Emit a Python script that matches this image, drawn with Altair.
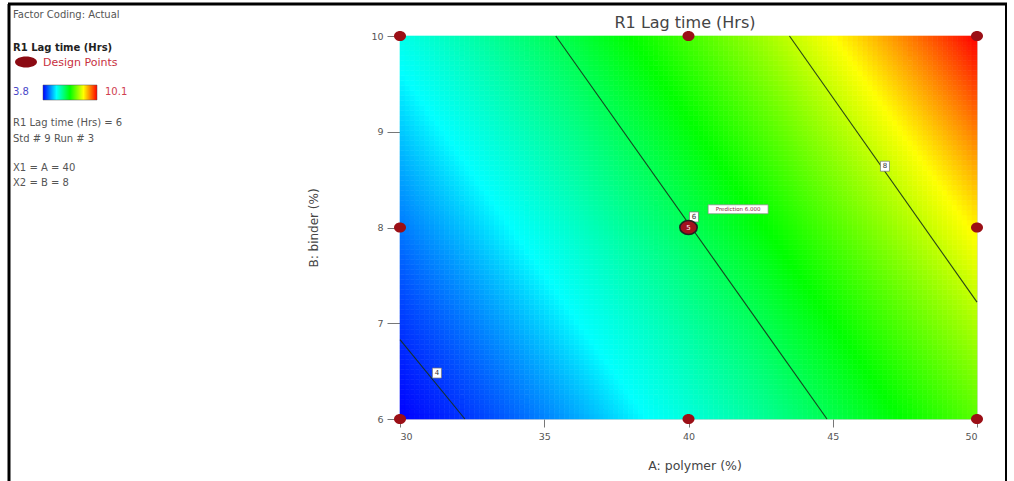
import altair as alt
import numpy as np
import pandas as pd

FONT = "DejaVu Sans"

# ---- axes ----
a_min, a_max = 30, 50
b_min, b_max = 6, 10
x_ticks = [30, 35, 40, 45, 50]
y_ticks = [6, 7, 8, 9, 10]
chart_title = "R1 Lag time (Hrs)"
x_title = "A: polymer (%)"
y_title = "B: binder (%)"

# ---- response surface ----
# R1 = c0 + b1*t + b2*t^2 with t = (A - 40) + k*(B - 8)
c0 = 6.0
b1 = 0.2143
b2 = 0.0044
k = 2.35

# ---- colour key (values where each colour sits) ----
r_min, r_max = 3.8, 10.1
color_stops = ["#0000ff", "#00ffff", "#00ff00", "#ffff00", "#ff0000"]
color_values = [3.8, 4.85, 6.6, 8.5, 10.1]

# ---- design points ----
dp_A = [30, 30, 30, 40, 40, 50, 50, 50]
dp_B = [6, 8, 10, 6, 10, 6, 8, 10]
center_A, center_B, center_reps = 40, 8, "5"

# ---- contour lines (end points) and their labels ----
contour_levels = ["4", "6", "8"]
contour_A1 = [30.0, 35.4, 43.5]
contour_B1 = [6.83, 10.0, 10.0]
contour_A2 = [32.25, 44.8, 50.0]
contour_B2 = [6.0, 6.0, 7.22]
label_A = [31.28, 40.19, 46.81]
label_B = [6.48, 8.11, 8.64]
pred_A, pred_B, pred_text = 41.72, 8.19, "Prediction  6.000"

# ---- left info panel ----
info_lines = ["Factor Coding: Actual", "R1 Lag time (Hrs) = 6", "Std # 9 Run # 3",
              "X1 = A = 40", "X2 = B = 8"]
info_y = [15, 123, 139, 168, 183]

# ---------------- build ----------------
W, H = 577, 383
OX, OY = 400, 36

nA, nB = 116, 77
ae = np.linspace(a_min, a_max, nA + 1)
be = np.linspace(b_min, b_max, nB + 1)
rows = []
for i in range(nA):
    for j in range(nB):
        ac = (ae[i] + ae[i + 1]) / 2
        bc = (be[j] + be[j + 1]) / 2
        t = (ac - 40) + k * (bc - 8)
        rows.append({"a0": ae[i], "a1": ae[i + 1], "b0": be[j], "b1": be[j + 1],
                     "r": c0 + b1 * t + b2 * t * t})
grid = pd.DataFrame(rows)

cscale = alt.Scale(domain=color_values, range=color_stops, interpolate="rgb", clamp=True)
xs = alt.Scale(domain=[a_min, a_max], nice=False, zero=False)
ys = alt.Scale(domain=[b_min, b_max], nice=False, zero=False)

xaxis = alt.Axis(values=x_ticks, format="d", title=x_title, grid=False, domain=False,
                 labelFontSize=9.5, labelColor="#555", tickColor="#777", tickSize=8,
                 labelPadding=4, titleFontSize=12.5, titleColor="#444", titleFontWeight="normal",
                 titleFont=FONT, labelFont=FONT, titleX=W / 2 + 6, titleY=46,
                 titleBaseline="middle")
yaxis = alt.Axis(values=y_ticks, format="d", title=y_title, grid=False, domain=False,
                 labelFontSize=9.5, labelColor="#555", tickColor="#777", tickSize=13,
                 labelPadding=4, titleFontSize=12, titleColor="#444", titleFontWeight="normal",
                 titleFont=FONT, labelFont=FONT, titleX=313 - OX, titleY=H / 2,
                 titleAngle=270, titleBaseline="middle", titleAlign="center")

heat = alt.Chart(grid).mark_rect(strokeWidth=0.6).encode(
    x=alt.X("a0:Q", scale=xs, axis=xaxis),
    x2="a1",
    y=alt.Y("b0:Q", scale=ys, axis=yaxis),
    y2="b1",
    color=alt.Color("r:Q", scale=cscale, legend=None),
    stroke=alt.Stroke("r:Q", scale=cscale, legend=None),
)

cont = pd.DataFrame({"lvl": contour_levels, "A1": contour_A1, "B1": contour_B1,
                     "A2": contour_A2, "B2": contour_B2})
lines = alt.Chart(cont).mark_rule(color="#17301a", strokeWidth=1.1, opacity=0.9).encode(
    x=alt.X("A1:Q", scale=xs, axis=xaxis), x2="A2",
    y=alt.Y("B1:Q", scale=ys, axis=yaxis), y2="B2")

labs = pd.DataFrame({"lvl": contour_levels, "A": label_A, "B": label_B})
lab_box = alt.Chart(labs).mark_rect(width=9, height=10, fill="white", stroke="#777",
                                    strokeWidth=0.7).encode(
    x=alt.X("A:Q", scale=xs, axis=xaxis), y=alt.Y("B:Q", scale=ys, axis=yaxis))
lab_txt = alt.Chart(labs).mark_text(fontSize=7, color="#333", font=FONT).encode(
    x=alt.X("A:Q", scale=xs, axis=xaxis), y=alt.Y("B:Q", scale=ys, axis=yaxis), text="lvl:N")

pred = pd.DataFrame({"A": [pred_A], "B": [pred_B], "t": [pred_text]})
pred_box = alt.Chart(pred).mark_rect(width=60, height=9, fill="white", stroke="#888",
                                     strokeWidth=0.7).encode(
    x=alt.X("A:Q", scale=xs, axis=xaxis), y=alt.Y("B:Q", scale=ys, axis=yaxis))
pred_txt = alt.Chart(pred).mark_text(fontSize=5.5, color="#8a2a3a", font=FONT).encode(
    x=alt.X("A:Q", scale=xs, axis=xaxis), y=alt.Y("B:Q", scale=ys, axis=yaxis), text="t:N")

dps = pd.DataFrame({"A": dp_A, "B": dp_B})
pts = alt.Chart(dps).mark_point(shape="M-1,0A1,0.85 0 1,1 1,0A1,0.85 0 1,1 -1,0Z", size=144,
                                filled=True, fill="#9b0f16", opacity=1).encode(
    x=alt.X("A:Q", scale=xs, axis=xaxis), y=alt.Y("B:Q", scale=ys, axis=yaxis))

cen = pd.DataFrame({"A": [center_A], "B": [center_B], "n": [center_reps]})
cpt = alt.Chart(cen).mark_point(shape="M-1,0A1,0.8 0 1,1 1,0A1,0.8 0 1,1 -1,0Z", size=300,
                                filled=True, fill="#a3121e", stroke="#222",
                                strokeWidth=1.6, opacity=1).encode(
    x=alt.X("A:Q", scale=xs, axis=xaxis), y=alt.Y("B:Q", scale=ys, axis=yaxis))
ctx = alt.Chart(cen).mark_text(fontSize=7, color="white", font=FONT).encode(
    x=alt.X("A:Q", scale=xs, axis=xaxis), y=alt.Y("B:Q", scale=ys, axis=yaxis), text="n:N")

one = pd.DataFrame({"z": [0]})

def ptext(txt, px, py, align="left", **kw):
    return alt.Chart(one).mark_text(text=txt, align=align, baseline="middle",
                                    font=FONT, **kw).encode(
        x=alt.value(px - OX), y=alt.value(py - OY))

info = [ptext(t, 13, y, fontSize=10, color="#555") for t, y in zip(info_lines, info_y)]
info.append(ptext(chart_title, 13, 48, fontSize=10, color="#222", fontWeight="bold"))
info.append(ptext("Design Points", 43, 63, fontSize=11, color="#c8303e"))
info.append(ptext(f"{r_min}", 13, 92, fontSize=10, color="#4a48c8"))
info.append(ptext(f"{r_max}", 105, 92, fontSize=10, color="#d04050"))
title_txt = ptext(chart_title, 685, 23, align="center", fontSize=16, color="#444")

leg_pt = alt.Chart(one).mark_point(shape="M-1,0A1,0.5 0 1,1 1,0A1,0.5 0 1,1 -1,0Z",
                                   size=484, filled=True, fill="#8b0a12",
                                   opacity=1).encode(x=alt.value(26 - OX), y=alt.value(62 - OY))
grad = alt.Chart(one).mark_rect(
    fill=alt.Gradient(gradient="linear", x1=0, x2=1, y1=0, y2=0,
                      stops=[alt.GradientStop(offset=i / (len(color_stops) - 1), color=c)
                             for i, c in enumerate(color_stops)]),
    stroke="#555", strokeWidth=0.5
).encode(x=alt.value(43 - OX), x2=alt.value(97 - OX), y=alt.value(85 - OY), y2=alt.value(100 - OY))

frame_top = alt.Chart(one).mark_rule(color="black", strokeWidth=3).encode(
    x=alt.value(8 - OX), x2=alt.value(1007 - OX), y=alt.value(4 - OY))
frame_left = alt.Chart(one).mark_rule(color="black", strokeWidth=3).encode(
    x=alt.value(9 - OX), y=alt.value(4 - OY), y2=alt.value(481 - OY))
frame_right = alt.Chart(one).mark_rule(color="black", strokeWidth=2).encode(
    x=alt.value(1006 - OX), y=alt.value(4 - OY), y2=alt.value(481 - OY))

chart = alt.layer(heat, lines, lab_box, lab_txt, pred_box, pred_txt, pts, cpt, ctx,
                  *info, title_txt, leg_pt, grad, frame_top, frame_left, frame_right).properties(
    width=W, height=H,
    autosize=alt.AutoSizeParams(type="none"),
    padding={"left": OX, "top": OY, "right": 1014 - OX - W, "bottom": 481 - OY - H},
).configure_view(stroke="#444", strokeWidth=1).configure(background="white")

chart.save("out.html", embed_options={"renderer": "svg", "actions": False})
